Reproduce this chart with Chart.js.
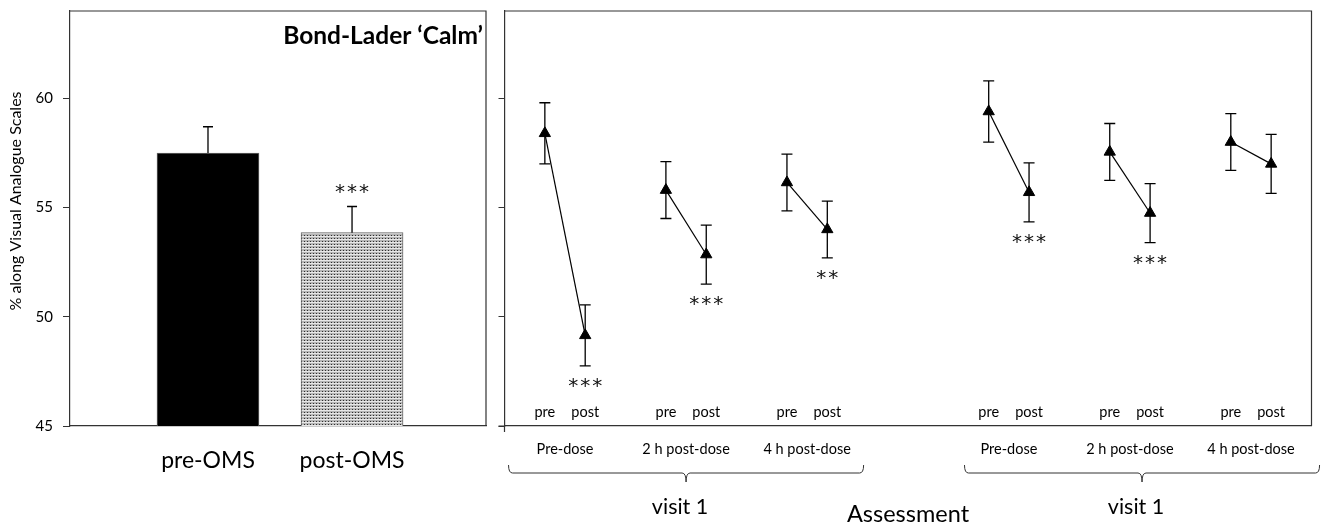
<!DOCTYPE html>
<html>
<head>
<meta charset="utf-8">
<script src="https://cdn.jsdelivr.net/npm/chart.js@4.4.0/dist/chart.umd.min.js"></script>
<style>
  body { margin: 0; background: #fff; }
  #left { position: absolute; left: 0; top: 0; }
  #right { position: absolute; left: 490px; top: 0; }
</style>
</head>
<body>
<canvas id="left" width="490" height="524"></canvas>
<canvas id="right" width="835" height="524"></canvas>
<script>
// left panel - overall pre/post OMS
var omsLabels = ['pre-OMS', 'post-OMS'];
var omsMean = [57.5, 53.85];
var omsErr = [1.2, 1.2];
var omsSig = ['', '***'];

// right panel - each assessment, pre vs post
var visitLabels = ['visit 1', 'visit 1'];
var sessionLabels = ['Pre-dose', '2 h post-dose', '4 h post-dose'];
var pairLabels = ['pre', 'post'];
var preMean = [58.4, 55.8, 56.15, 59.4, 57.55, 58.0];
var preErr = [1.4, 1.3, 1.3, 1.4, 1.3, 1.3];
var postMean = [49.15, 52.85, 54.0, 55.7, 54.75, 57.0];
var postErr = [1.4, 1.35, 1.3, 1.35, 1.35, 1.35];
var postSig = ['***', '***', '**', '***', '***', ''];

var yTicks = [45, 50, 55, 60];
var panelTitle = 'Bond-Lader \u2018Calm\u2019';
var yTitle = '% along Visual Analogue Scales';
var xTitle = 'Assessment';

var FONT = 'Lato, "Open Sans", sans-serif';
var LINE = '#333';

Chart.defaults.font.family = FONT;
Chart.defaults.color = '#000';

// x slot of the "pre" point of session i (3 sessions per visit)
function slot(i) {
  return 1 + 3 * (i % 3) + 11 * Math.floor(i / 3);
}

function setYTicks(scale) {
  scale.ticks = yTicks.map(function (v) { return { value: v }; });
}

// dotted fill for the post-OMS bar
var tile = document.createElement('canvas');
tile.width = 3; tile.height = 3;
var tg = tile.getContext('2d');
tg.fillStyle = '#b4b4b4'; tg.fillRect(0, 0, 3, 3);
tg.fillStyle = '#e8e8e8'; tg.fillRect(0, 2, 3, 1);
tg.fillStyle = '#2e2e2e'; tg.fillRect(1, 1, 1, 1);
var dots = tg.createPattern(tile, 'repeat');

function stars(ctx, txt, x, y) {
  if (!txt) return;
  ctx.save();
  ctx.font = '20px "DejaVu Sans", sans-serif';
  ctx.letterSpacing = '2px';
  ctx.fillStyle = '#111';
  ctx.textAlign = 'center';
  ctx.textBaseline = 'middle';
  ctx.fillText(txt, x + 1, y + 4);
  ctx.restore();
}

function errBar(ctx, x, yA, yB, half) {
  ctx.moveTo(x, yA); ctx.lineTo(x, yB);
  ctx.moveTo(x - half, yB); ctx.lineTo(x + half, yB);
}

// ---------- left chart ----------
var leftPlugin = {
  id: 'leftExtras',
  afterDatasetsDraw: function (chart) {
    var ctx = chart.ctx, y = chart.scales.y, a = chart.chartArea;
    ctx.save();
    ctx.strokeStyle = '#000';
    ctx.lineWidth = 1.3;
    ctx.beginPath();
    chart.getDatasetMeta(0).data.forEach(function (bar, i) {
      errBar(ctx, bar.x, bar.y, y.getPixelForValue(omsMean[i] + omsErr[i]), 5);
    });
    ctx.stroke();
    chart.getDatasetMeta(0).data.forEach(function (bar, i) {
      stars(ctx, omsSig[i], bar.x, y.getPixelForValue(omsMean[i] + omsErr[i]) - 18);
    });
    // frame top/right
    ctx.strokeStyle = LINE;
    ctx.lineWidth = 1.2;
    ctx.beginPath();
    ctx.moveTo(a.left, a.top); ctx.lineTo(a.right, a.top); ctx.lineTo(a.right, a.bottom);
    ctx.stroke();
    ctx.fillStyle = '#000';
    ctx.textBaseline = 'middle';
    ctx.font = 'bold 24.5px ' + FONT;
    ctx.textAlign = 'right';
    ctx.fillText(panelTitle, a.right - 3, 36);
    // y axis title
    ctx.font = '16px ' + FONT;
    ctx.textAlign = 'center';
    ctx.translate(16, 201);
    ctx.rotate(-Math.PI / 2);
    ctx.fillText(yTitle, 0, 0);
    ctx.restore();
  }
};

new Chart(document.getElementById('left'), {
  type: 'bar',
  data: {
    datasets: [{
      data: omsMean.map(function (v, i) { return { x: i + 1, y: v }; }),
      backgroundColor: ['#000', dots],
      borderColor: '#666',
      borderWidth: 1,
      barThickness: 102
    }]
  },
  options: {
    responsive: false,
    animation: false,
    layout: { padding: { left: 0, right: 4, top: 11, bottom: 0 } },
    plugins: { legend: { display: false }, tooltip: { enabled: false } },
    scales: {
      x: {
        type: 'linear',
        offset: false,
        min: 0.042,
        max: 2.93,
        afterBuildTicks: function (s) {
          s.ticks = omsLabels.map(function (_, i) { return { value: i + 1 }; });
        },
        afterFit: function (s) { s.height = 98; s.paddingLeft = 0; s.paddingRight = 0; },
        grid: { display: false, drawTicks: false },
        border: { color: LINE, width: 1.2 },
        ticks: {
          font: { size: 23 },
          padding: 21,
          maxRotation: 0,
          autoSkip: false,
          callback: function (v) { return omsLabels[v - 1]; }
        }
      },
      y: {
        min: 45,
        max: 64,
        afterBuildTicks: setYTicks,
        afterFit: function (s) { s.width = 70; s.paddingTop = 0; s.paddingBottom = 0; },
        grid: { drawOnChartArea: false, tickLength: 7, color: LINE },
        border: { color: LINE, width: 1.2 },
        ticks: { font: { size: 15 }, padding: 10 }
      }
    }
  },
  plugins: [leftPlugin]
});

// ---------- right chart ----------
var rightPlugin = {
  id: 'rightExtras',
  beforeDatasetsDraw: function (chart) {
    var ctx = chart.ctx, x = chart.scales.x, y = chart.scales.y;
    ctx.save();
    ctx.strokeStyle = '#000';
    ctx.lineWidth = 1.3;
    ctx.beginPath();
    preMean.forEach(function (m, i) {
      var xa = x.getPixelForValue(slot(i)), xb = x.getPixelForValue(slot(i) + 1);
      var ya = y.getPixelForValue(m), yb = y.getPixelForValue(postMean[i]);
      errBar(ctx, xa, ya, y.getPixelForValue(m + preErr[i]), 5.5);
      errBar(ctx, xa, ya, y.getPixelForValue(m - preErr[i]), 5.5);
      errBar(ctx, xb, yb, y.getPixelForValue(postMean[i] + postErr[i]), 5.5);
      errBar(ctx, xb, yb, y.getPixelForValue(postMean[i] - postErr[i]), 5.5);
    });
    ctx.stroke();
    ctx.restore();
  },
  afterDraw: function (chart) {
    var ctx = chart.ctx, x = chart.scales.x, y = chart.scales.y, a = chart.chartArea;
    ctx.save();
    // frame
    ctx.strokeStyle = LINE;
    ctx.lineWidth = 1.2;
    ctx.beginPath();
    ctx.moveTo(a.left - 6, a.bottom); ctx.lineTo(a.left, a.bottom);
    ctx.moveTo(a.left, a.bottom); ctx.lineTo(a.left, a.bottom + 6);
    ctx.moveTo(a.left, a.top); ctx.lineTo(a.right, a.top); ctx.lineTo(a.right, a.bottom);
    ctx.stroke();

    ctx.fillStyle = '#000';
    ctx.textAlign = 'center';
    ctx.textBaseline = 'middle';
    preMean.forEach(function (m, i) {
      var s = slot(i);
      stars(ctx, postSig[i], x.getPixelForValue(s + 1), y.getPixelForValue(postMean[i] - postErr[i]) + 17);
      ctx.font = '14.5px ' + FONT;
      ctx.fillText(pairLabels[0], x.getPixelForValue(s), a.bottom - 14);
      ctx.fillText(pairLabels[1], x.getPixelForValue(s + 1), a.bottom - 14);
      ctx.fillText(sessionLabels[i % 3], x.getPixelForValue(s + 0.5), a.bottom + 23);
    });

    // braces + visit labels
    ctx.strokeStyle = LINE;
    ctx.lineWidth = 1;
    visitLabels.forEach(function (lab, v) {
      var x0 = x.getPixelForValue(slot(3 * v) - 0.9 + 0.3 * v);
      var x1 = x.getPixelForValue(slot(3 * v + 2) + 1.9 + 0.3 * v);
      var xm = (x0 + x1) / 2;
      var yt = a.bottom + 39, yh = a.bottom + 47, yb = a.bottom + 56;
      ctx.beginPath();
      ctx.moveTo(x0, yt);
      ctx.quadraticCurveTo(x0, yh, x0 + 4, yh);
      ctx.lineTo(xm - 4, yh);
      ctx.quadraticCurveTo(xm, yh, xm, yb);
      ctx.quadraticCurveTo(xm, yh, xm + 4, yh);
      ctx.lineTo(x1 - 4, yh);
      ctx.quadraticCurveTo(x1, yh, x1, yt);
      ctx.stroke();
      ctx.font = '21.5px ' + FONT;
      ctx.fillText(lab, xm - 6, a.bottom + 81);
    });

    ctx.font = '23.5px ' + FONT;
    ctx.fillText(xTitle, (a.left + a.right) / 2, a.bottom + 88);
    ctx.restore();
  }
};

var rightSets = preMean.map(function (m, i) {
  return {
    data: [{ x: slot(i), y: m }, { x: slot(i) + 1, y: postMean[i] }],
    borderColor: '#000',
    borderWidth: 1.2,
    pointStyle: 'triangle',
    pointRadius: 6.5,
    pointBackgroundColor: '#000',
    pointBorderColor: '#000',
    pointBorderWidth: 1
  };
});

new Chart(document.getElementById('right'), {
  type: 'line',
  data: { datasets: rightSets },
  options: {
    responsive: false,
    animation: false,
    layout: { padding: { left: 0, right: 13.5, top: 11, bottom: 0 } },
    plugins: { legend: { display: false }, tooltip: { enabled: false } },
    scales: {
      x: {
        type: 'linear',
        min: 0,
        max: 20,
        afterFit: function (s) { s.height = 98; },
        grid: { display: false, drawTicks: false },
        border: { color: LINE, width: 1.2 },
        ticks: { display: false }
      },
      y: {
        min: 45,
        max: 64,
        afterBuildTicks: setYTicks,
        afterFit: function (s) { s.width = 14.5; s.paddingTop = 0; s.paddingBottom = 0; },
        grid: { drawOnChartArea: false, tickLength: 6, color: LINE },
        border: { color: LINE, width: 1.2 },
        ticks: { display: false }
      }
    }
  },
  plugins: [rightPlugin]
});
</script>
</body>
</html>
